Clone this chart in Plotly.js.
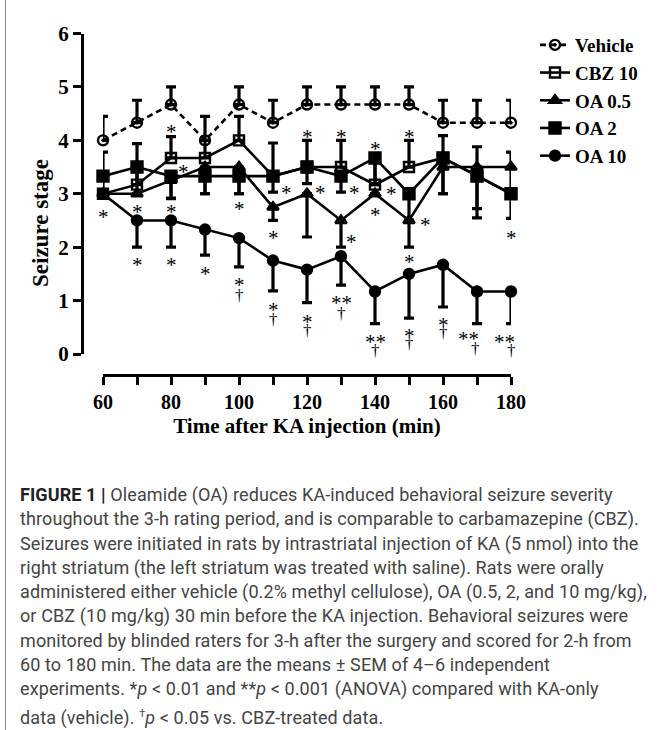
<!DOCTYPE html>
<html>
<head>
<meta charset="utf-8">
<script src="https://cdn.plot.ly/plotly-3.0.1.min.js"></script>
<style>
  html, body { margin: 0; padding: 0; background: #fff; }
  #wrap { position: relative; width: 657px; height: 730px; overflow: hidden; background: #fff; }
  #frame { position: absolute; left: 5px; top: 0; width: 0; height: 730px; border-left: 1px solid #8a8a8a; z-index: 5; }
  #chart { position: absolute; left: 0; top: 0; width: 657px; height: 465px; }
  #caption { position: absolute; left: 20px; top: 483px; width: 636px;
             font-family: Roboto, "Liberation Sans", Arial, sans-serif; font-size: 18px;
             line-height: 24.3px; color: #444; white-space: nowrap; letter-spacing: 0.1px; }
  #caption b { color: #222; }
</style>
</head>
<body>
<div id="wrap">
  <div id="chart"></div>
  <div id="frame"></div>
  <div id="caption">
    <b>FIGURE 1 |</b> Oleamide (OA) reduces KA-induced behavioral seizure severity<br>
    throughout the 3-h rating period, and is comparable to carbamazepine (CBZ).<br>
    Seizures were initiated in rats by intrastriatal injection of KA (5 nmol) into the<br>
    right striatum (the left striatum was treated with saline). Rats were orally<br>
    administered either vehicle (0.2% methyl cellulose), OA (0.5, 2, and 10 mg/kg),<br>
    or CBZ (10 mg/kg) 30 min before the KA injection. Behavioral seizures were<br>
    monitored by blinded raters for 3-h after the surgery and scored for 2-h from<br>
    60 to 180 min. The data are the means ± SEM of 4–6 independent<br>
    experiments. *<i>p</i> &lt; 0.01 and **<i>p</i> &lt; 0.001 (ANOVA) compared with KA-only<br>
    data (vehicle). <sup style="font-size:11px">†</sup><i>p</i> &lt; 0.05 vs. CBZ-treated data.
  </div>
</div>
<script>
// ---------------- data ----------------
const times = [60, 70, 80, 90, 100, 110, 120, 130, 140, 150, 160, 170, 180];

const vehicle      = [4.0, 4.33, 4.67, 4.0, 4.67, 4.33, 4.67, 4.67, 4.67, 4.67, 4.33, 4.33, 4.33];
const vehicleErrUp = [0.45, 0.42, 0.33, 0.45, 0.33, 0.42, 0.33, 0.33, 0.33, 0.33, 0.42, 0.42, 0.42];

const cbz      = [3.0, 3.17, 3.67, 3.67, 4.0, 3.33, 3.5, 3.5, 3.17, 3.5, 3.67, 3.33, 3.0];
const cbzErrUp = [0.78, 0.77, 0.4, 0.33, 0.45, 0.62, 0.5, 0.5, 0.5, 0.5, 0.42, 0.55, 0.78];

const oa05        = [3.0, 3.0, 3.25, 3.5, 3.5, 2.75, 3.0, 2.5, 3.0, 2.5, 3.5, 3.5, 3.5];
const oa05ErrDown = [0, 0, 0.33, 0.5, 0.5, 0.25, 0.81, 0.5, 0, 0.5, 0.5, 0.95, 0];

const oa2        = [3.33, 3.5, 3.33, 3.33, 3.33, 3.33, 3.5, 3.33, 3.67, 3.0, 3.67, 3.33, 3.0];
const oa2ErrDown = [0, 0.5, 0.42, 0.33, 0.33, 0.3, 0.31, 0.3, 0.5, 0.5, 0.67, 0.61, 0.46];

const oa10        = [3.0, 2.5, 2.5, 2.33, 2.17, 1.75, 1.58, 1.83, 1.17, 1.5, 1.67, 1.17, 1.17];
const oa10ErrDown = [0, 0.5, 0.5, 0.48, 0.54, 0.57, 0.62, 0.54, 0.6, 0.83, 0.79, 0.6, 0.6];

const seriesNames = ["Vehicle", "CBZ 10", "OA 0.5", "OA 2", "OA 10"];

// significance marks (text, x in min, y in seizure stage)
const sigText = ["*","*","*","*","*","*","*","*","*","*","*","*","*","*","*","*","*","*","*","*","*",
                 "*","*","*","*","†","*","†","*","†","**","†","**","†","*","†","*","†","**","†","**","†"];
const sigX = [56.5, 60, 70, 80, 80, 83.6, 100, 114, 110, 120, 124.1, 130, 134, 133.1, 140, 144.9, 140, 150, 154.9, 150, 180,
              70, 80, 90, 100, 100, 110, 110, 120, 120, 130, 130, 140, 140, 150, 150, 160, 160, 167.5, 169.7, 178, 180];
const sigY = [3.63, 2.66, 2.75, 4.25, 2.75, 3.51, 2.8, 3.1, 2.26, 4.16, 3.1, 4.16, 3.1, 2.19, 3.94, 3.08, 2.69, 4.16, 2.5, 1.82, 2.26,
              1.76, 1.76, 1.59, 1.38, 1.10, 0.92, 0.64, 0.70, 0.44, 1.04, 0.76, 0.32, 0.07, 0.43, 0.2, 0.64, 0.41, 0.37, 0.11, 0.32, 0.07];

// ---------------- styling ----------------
const serif = "Liberation Serif, Times New Roman, serif";
const lineW = 2.6;
function errBar(up, down) {
  const zeros = times.map(() => 0);
  return { type: "data", symmetric: false, array: up || zeros, arrayminus: down || zeros,
           color: "#000", thickness: 3.2, width: 5 };
}
function trace(name, y, err, symbol, size, dash, rank) {
  return {
    type: "scatter", mode: "lines+markers", name: name, x: times, y: y,
    legendrank: rank, legendgroup: "g" + rank, cliponaxis: false,
    line: { color: "#000", width: lineW, dash: dash },
    marker: { symbol: symbol, size: size, color: "#000", line: { color: "#000", width: 2.4 } },
    error_y: err
  };
}

const data = [
  trace(seriesNames[4], oa10, errBar(null, oa10ErrDown), "circle", 10, "solid", 5),
  trace(seriesNames[2], oa05, errBar(null, oa05ErrDown), "triangle-up", 10, "solid", 3),
  trace(seriesNames[3], oa2,  errBar(null, oa2ErrDown),  "square", 11, "solid", 4),
  trace(seriesNames[1], cbz,  errBar(cbzErrUp, null),    "square-open", 10, "solid", 2),
  trace(seriesNames[0], vehicle, errBar(vehicleErrUp, null), "circle-open-dot", 10, "6px,4px", 1)
];

const annotations = sigText.map((t, i) => ({
  x: sigX[i], y: sigY[i], xref: "x", yref: "y", text: t, showarrow: false,
  font: { family: serif, size: t === "†" ? 17 : 21, color: "#000" },
  yshift: t === "†" ? 0 : -5
}));
annotations.push({
  xref: "paper", yref: "paper", x: 40 / 657, y: (465 - 223) / 465, xanchor: "center", yanchor: "middle",
  text: "<b>Seizure stage</b>",
  textangle: -90, showarrow: false, font: { family: serif, size: 23, color: "#000" }
});

const layout = {
  width: 657, height: 465,
  margin: { l: 0, r: 0, t: 0, b: 0 },
  paper_bgcolor: "rgba(255,255,255,0)", plot_bgcolor: "rgba(255,255,255,0)",
  showlegend: true,
  legend: {
    x: 535 / 657, y: (465 - 26) / 465, xanchor: "left", yanchor: "top",
    traceorder: "grouped", tracegroupgap: 0,
    font: { family: serif, size: 19, color: "#000", weight: "bold" },
    bgcolor: "rgba(0,0,0,0)", itemwidth: 30
  },
  xaxis: {
    range: [60, 180], domain: [103 / 657, 511 / 657],
    anchor: "free", position: (465 - 375) / 465,
    showline: true, linecolor: "#000", linewidth: 3,
    showgrid: false, zeroline: false,
    ticks: "outside", ticklen: 8, tickwidth: 3, tickcolor: "#000",
    tick0: 60, dtick: 20,
    minor: { dtick: 10, ticks: "outside", ticklen: 8, tickwidth: 3, tickcolor: "#000", showgrid: false },
    tickfont: { family: serif, size: 20, color: "#000", weight: "bold" },
    title: { text: "<b>Time after KA injection (min)</b>", font: { family: serif, size: 21, color: "#000" }, standoff: 6 }
  },
  yaxis: {
    range: [0, 6], domain: [(465 - 354) / 465, (465 - 33.5) / 465],
    anchor: "free", position: 82 / 657,
    showline: true, linecolor: "#000", linewidth: 3,
    showgrid: false, zeroline: false,
    ticks: "outside", ticklen: 8, tickwidth: 3, tickcolor: "#000",
    tick0: 0, dtick: 1,
    tickfont: { family: serif, size: 21, color: "#000", weight: "bold" }
  },
  annotations: annotations
};

Plotly.newPlot("chart", data, layout, { displayModeBar: false, staticPlot: true });
</script>
</body>
</html>
